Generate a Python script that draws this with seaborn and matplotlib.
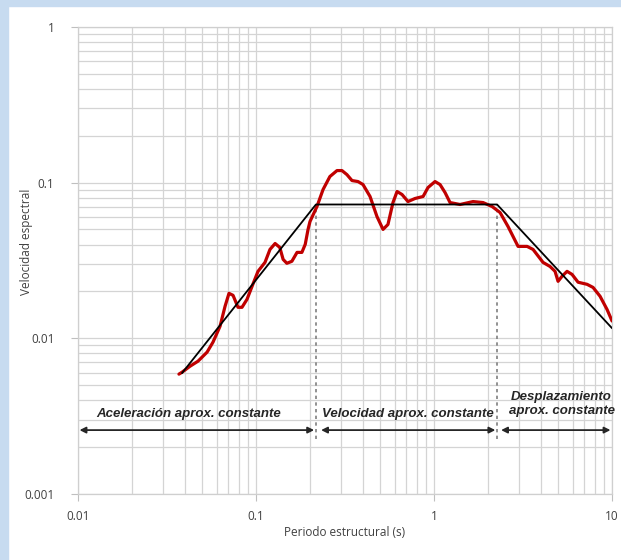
import numpy as np
import pandas as pd
import matplotlib
matplotlib.use('Agg')
import matplotlib.pyplot as plt
from matplotlib.patches import Rectangle
import seaborn as sns

# espectro de respuesta (curva roja)
periodo = [0.0369, 0.0384, 0.0426, 0.0472, 0.0531, 0.0573, 0.0628, 0.0670, 0.0705, 0.0743,
           0.0792, 0.0834, 0.0890, 0.0950, 0.1026, 0.1123, 0.1198, 0.128, 0.136, 0.142,
           0.149, 0.159, 0.170, 0.181, 0.189, 0.196, 0.201, 0.220, 0.238, 0.260,
           0.285, 0.304, 0.324, 0.346, 0.374, 0.399, 0.437, 0.478, 0.517, 0.551,
           0.588, 0.620, 0.661, 0.714, 0.782, 0.868, 0.925, 1.013, 1.081, 1.153,
           1.230, 1.400, 1.656, 1.885, 2.118, 2.349, 2.604, 2.965, 3.332, 3.599,
           4.096, 4.485, 4.784, 4.973, 5.237, 5.587, 5.961, 6.442, 7.238, 7.821,
           8.562, 9.374, 10.0]
velocidad = [0.00588, 0.00605, 0.00661, 0.00712, 0.00814, 0.00943, 0.01194, 0.01604, 0.01943, 0.01886,
             0.0158, 0.0158, 0.01778, 0.02154, 0.02689, 0.0307, 0.0372, 0.0406, 0.0383, 0.0321,
             0.0303, 0.0312, 0.0356, 0.0356, 0.0401, 0.0500, 0.0562, 0.0702, 0.0902, 0.1093,
             0.1194, 0.1194, 0.1125, 0.1030, 0.1015, 0.0971, 0.0814, 0.0605, 0.0500, 0.0538,
             0.0744, 0.0876, 0.0838, 0.0755, 0.0790, 0.0814, 0.0929, 0.1015, 0.0971, 0.0863,
             0.0744, 0.0723, 0.0755, 0.0744, 0.0702, 0.0642, 0.0522, 0.0389, 0.0389, 0.0372,
             0.0307, 0.0289, 0.0269, 0.0232, 0.0250, 0.0269, 0.0257, 0.0229, 0.0222, 0.0212,
             0.0186, 0.0153, 0.0129]

# espectro idealizado (trapecio negro)
periodo_ideal = [0.0384, 0.217, 2.26, 10.0]
velocidad_ideal = [0.00597, 0.0723, 0.0723, 0.0116]

# zonas
y_flecha = 0.00257
y_fin_guia = 0.00225
zonas = [(0.0102, 0.212), (0.232, 2.21), (2.38, 9.8)]
etiquetas = ['Aceleración aprox. constante', 'Velocidad aprox. constante', 'Desplazamiento\naprox. constante']

df = pd.DataFrame({'T': periodo, 'Sv': velocidad})
df_ideal = pd.DataFrame({'T': periodo_ideal, 'Sv': velocidad_ideal})

sns.set_style('white')
plt.rcParams['font.family'] = ['Open Sans', 'DejaVu Sans']

fig = plt.figure(figsize=(6.21, 5.6), dpi=100)
ax = fig.add_axes([0.1256, 0.118, 0.86, 0.834])

# marco azul
fig.patches.append(Rectangle((0, 0), 8 / 621, 1, transform=fig.transFigure, color='#c7dbf0', zorder=0))
fig.patches.append(Rectangle((0, 1 - 6 / 560), 1, 6 / 560, transform=fig.transFigure, color='#c7dbf0', zorder=0))

ax.set_xscale('log')
ax.set_yscale('log')
ax.set_xlim(0.01, 10)
ax.set_ylim(0.001, 1)

ax.grid(True, which='both', color='#d4d4d4', linewidth=0.9)
ax.set_axisbelow(True)
for s in ax.spines.values():
    s.set_color('#cfcfcf')
    s.set_linewidth(0.9)

sns.lineplot(data=df, x='T', y='Sv', ax=ax, color='#c00000', linewidth=2.3, sort=False, zorder=4,
             solid_joinstyle='round', solid_capstyle='round')
sns.lineplot(data=df_ideal, x='T', y='Sv', ax=ax, color='black', linewidth=1.3, sort=False, zorder=5)

for t in periodo_ideal[1:3]:
    ax.vlines(t, y_fin_guia, velocidad_ideal[1], colors='#7f7f7f', linestyles=(0, (2, 2)), linewidth=1.2, zorder=3)

for (a, b) in zonas:
    ax.annotate('', xy=(a, y_flecha), xytext=(b, y_flecha),
                arrowprops=dict(arrowstyle='<|-|>', color='#262626', lw=1.3,
                                mutation_scale=9, shrinkA=0, shrinkB=0))

fuente = dict(fontsize=9.5, fontweight='bold', fontstyle='italic', color='#262626',
              family=['Liberation Sans Narrow', 'Liberation Sans', 'DejaVu Sans'])
ax.text(0.042, 0.00326, etiquetas[0], ha='center', va='center', **fuente)
ax.text(0.71, 0.00326, etiquetas[1], ha='center', va='center', **fuente)
ax.text(5.2, 0.00378, etiquetas[2], ha='center', va='center', multialignment='center', linespacing=1.15, **fuente)

ax.set_xticks([0.01, 0.1, 1, 10])
ax.set_xticklabels(['0.01', '0.1', '1', '10'])
ax.set_yticks([0.001, 0.01, 0.1, 1])
ax.set_yticklabels(['0.001', '0.01', '0.1', '1'])
ax.tick_params(which='major', length=5, color='#bfbfbf', labelsize=8.5, labelcolor='#404040', bottom=True, left=True)
ax.tick_params(axis='y', which='major', pad=12)
ax.tick_params(axis='x', which='major', pad=6.5)
ax.tick_params(which='minor', length=0)

ax.set_xlabel('Periodo estructural (s)', fontsize=8.5, color='#404040')
ax.set_ylabel('Velocidad espectral', fontsize=8.5, color='#404040')
ax.xaxis.set_label_coords(0.5, -0.068)
ax.yaxis.set_label_coords(-0.084, 0.54)

fig.savefig('out.png', dpi=100)
